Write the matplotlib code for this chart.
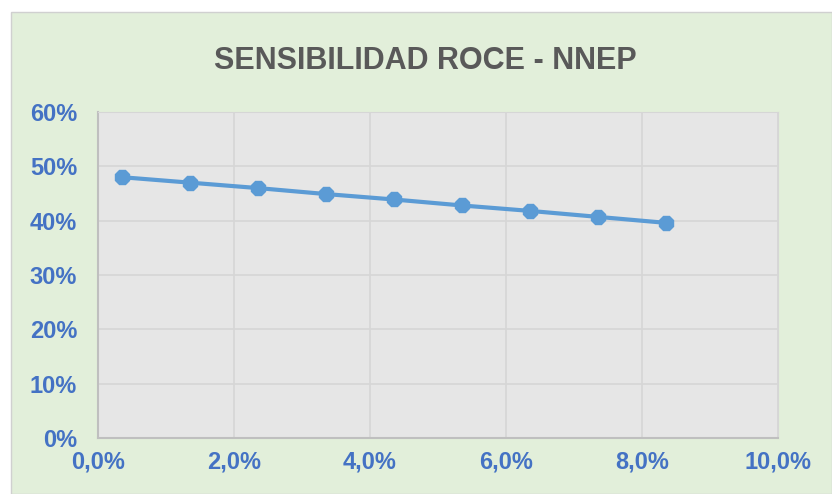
import matplotlib.pyplot as plt
import matplotlib.ticker as ticker
from matplotlib.patches import Rectangle

# valeurs
nnep = [0.35, 1.35, 2.35, 3.35, 4.35, 5.35, 6.35, 7.35, 8.35]
roce = [48.0, 47.0, 46.0, 44.9, 43.9, 42.8, 41.8, 40.7, 39.6]
xticks = [0, 2, 4, 6, 8, 10]
yticks = [0, 10, 20, 30, 40, 50, 60]

police = ["Liberation Sans", "DejaVu Sans"]
bleu_txt = "#4472C4"
bleu_ligne = "#5B9BD5"

fig = plt.figure(figsize=(8.32, 4.94), dpi=100)
fig.patch.set_facecolor("white")
fond = Rectangle((11 / 832, 0), 1 - 11 / 832, 1 - 12 / 494,
                 transform=fig.transFigure, facecolor="#E2EFDA",
                 edgecolor="#D0D0D0", linewidth=1, zorder=-10)
fig.add_artist(fond)

ax = fig.add_axes([98 / 832, 56 / 494, 680 / 832, 326 / 494])
ax.set_facecolor("#E6E6E6")

ax.plot(nnep, roce, color=bleu_ligne, linewidth=3, marker="8",
        markersize=11, markerfacecolor=bleu_ligne, markeredgecolor=bleu_ligne,
        zorder=3)

ax.set_xlim(0, 10)
ax.set_ylim(0, 60)
ax.set_xticks(xticks)
ax.set_yticks(yticks)
ax.xaxis.set_major_formatter(ticker.FuncFormatter(
    lambda x, _: f"{x:.1f}%".replace(".", ",")))
ax.yaxis.set_major_formatter(ticker.FuncFormatter(lambda y, _: f"{int(y)}%"))

ax.tick_params(axis="both", colors=bleu_txt, length=0)
ax.tick_params(axis="x", pad=9)
ax.tick_params(axis="y", pad=15)
for lab in ax.get_xticklabels() + ax.get_yticklabels():
    lab.set_fontfamily(police)
    lab.set_fontsize(17)
    lab.set_fontweight("bold")
    lab.set_color(bleu_txt)

ax.grid(True, color="#D6D6D6", linewidth=1.2)
ax.set_axisbelow(True)
for cote in ["top", "right"]:
    ax.spines[cote].set_color("#D6D6D6")
for cote in ["left", "bottom"]:
    ax.spines[cote].set_color("#BFBFBF")
    ax.spines[cote].set_linewidth(1.5)

fig.text(425 / 832, 1 - 61 / 494, "SENSIBILIDAD ROCE - NNEP", ha="center",
         va="center", fontsize=22, fontweight="bold", color="#595959",
         fontfamily=police)

plt.savefig("out.png", dpi=100)
plt.close()
